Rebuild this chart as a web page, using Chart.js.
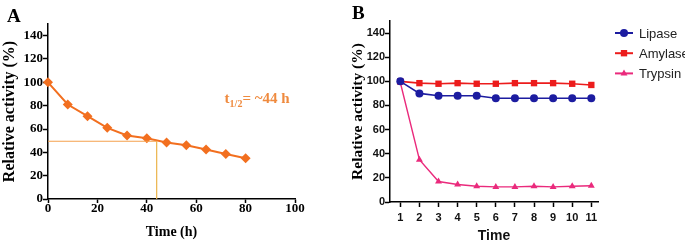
<!DOCTYPE html>
<html><head><meta charset="utf-8">
<script src="https://cdn.jsdelivr.net/npm/chart.js@4.4.0/dist/chart.umd.min.js"></script>
<style>
html,body{margin:0;padding:0;background:#fff;width:685px;height:245px;overflow:hidden;}
.wrap{position:absolute;top:0;height:245px;}
.lab{position:absolute;font:bold 19px "Liberation Serif",serif;color:#000;}
</style></head><body>
<div class="wrap" style="left:0;width:340px"><canvas id="ca" width="340" height="245"></canvas></div>
<div class="wrap" style="left:340px;width:345px"><canvas id="cb" width="345" height="245"></canvas></div>
<div class="lab" style="left:7px;top:5px">A</div>
<div class="lab" style="left:352px;top:2px">B</div>
<script>
// ---- Panel A data ----
const timeHours = [0, 8, 16, 24, 32, 40, 48, 56, 64, 72, 80];
const activityA = [100, 81, 71, 61, 54.5, 52, 48.5, 46, 42.5, 38.5, 35];
const halfLife = 44;
const halfActivity = 49.5;
const xTicksA = [0, 20, 40, 60, 80, 100];
const yTicks = [0, 20, 40, 60, 80, 100, 120, 140];

// ---- Panel B data ----
const timeB = [1, 2, 3, 4, 5, 6, 7, 8, 9, 10, 11];
const lipase = [100, 90, 88, 88, 88, 86, 86, 86, 86, 86, 86];
const amylase = [100, 98.5, 98, 98.5, 98, 98, 98.5, 98.5, 98.5, 98, 97];
const trypsin = [99, 35, 17, 14.5, 13, 12.5, 12.5, 13, 12.5, 13, 13.5];
const xTicksB = [1, 2, 3, 4, 5, 6, 7, 8, 9, 10, 11];

const serifB = '"Liberation Serif", "Times New Roman", serif';
const sans = '"Liberation Sans", Arial, sans-serif';

function setTicks(list){ return function(scale){ scale.ticks = list.map(v => ({value: v})); }; }
function axisBase(len){
  return {
    grid: {drawOnChartArea: false, tickLength: len, tickColor: '#000', tickWidth: 1.5},
    border: {color: '#000', width: 1.5},
  };
}

// ---- Chart A ----
const annotA = {
  id: 'annotA',
  afterDatasetsDraw(chart){
    const ctx = chart.ctx, xs = chart.scales.x, ys = chart.scales.y;
    let x = xs.getPixelForValue(71.5), y = ys.getPixelForValue(82);
    ctx.save();
    ctx.fillStyle = '#ef8a3e';
    ctx.textBaseline = 'alphabetic';
    ctx.font = 'bold 15px ' + serifB;
    ctx.fillText('t', x, y);
    x += ctx.measureText('t').width;
    ctx.font = 'bold 10px ' + serifB;
    ctx.fillText('1/2', x, y + 4);
    x += ctx.measureText('1/2').width;
    ctx.font = 'bold 15px ' + serifB;
    ctx.fillText('= ~44 h', x, y);
    ctx.restore();
  }
};

new Chart(document.getElementById('ca'), {
  type: 'line',
  data: {
    datasets: [
      {
        data: [{x: 0, y: halfActivity}, {x: halfLife, y: halfActivity}],
        borderColor: '#f4a04c', borderWidth: 1.2, pointRadius: 0, fill: false, clip: false
      },
      {
        data: [{x: halfLife, y: halfActivity}, {x: halfLife, y: 0}],
        borderColor: '#ebb44a', borderWidth: 1.2, pointRadius: 0, fill: false, clip: false
      },
      {
        data: timeHours.map((t, i) => ({x: t, y: activityA[i]})),
        borderColor: '#f26f1f', backgroundColor: '#f26f1f', borderWidth: 2,
        pointStyle: 'rectRot', pointRadius: 5, pointBorderWidth: 0, fill: false, clip: false
      }
    ]
  },
  options: {
    responsive: false, animation: false,
    layout: {padding: {left: 0, top: 24, right: 45, bottom: 0}},
    plugins: {legend: {display: false}, tooltip: {enabled: false}},
    scales: {
      x: Object.assign(axisBase(4), {
        type: 'linear', min: 0, max: 100,
        afterBuildTicks: setTicks(xTicksA),
        afterFit(s){ s.height = 46; },
        ticks: {font: {family: serifB, size: 13, weight: 'bold'}, color: '#000', padding: -2, maxRotation: 0},
        title: {display: true, text: 'Time (h)', font: {family: serifB, size: 14, weight: 'bold'}, color: '#000', padding: {top: 0, bottom: 4}}
      }),
      y: Object.assign(axisBase(5), {
        type: 'linear', min: 0, max: 150,
        afterBuildTicks: setTicks(yTicks),
        afterFit(s){ s.width = 48; },
        ticks: {font: {family: serifB, size: 13, weight: 'bold'}, color: '#000', padding: 0},
        title: {display: true, text: 'Relative activity (%)', font: {family: serifB, size: 16, weight: 'bold'}, color: '#000', padding: {top: 0, bottom: 0}}
      })
    }
  },
  plugins: [annotA]
});

// ---- Chart B ----
const legendB = {
  id: 'legendB',
  afterDraw(chart){
    const ctx = chart.ctx;
    chart.data.datasets.forEach((ds, i) => {
      const y = 33 + i * 20.2;
      ctx.save();
      ctx.strokeStyle = ds.borderColor; ctx.lineWidth = 2;
      ctx.beginPath(); ctx.moveTo(275, y); ctx.lineTo(293, y); ctx.stroke();
      ctx.fillStyle = ds.backgroundColor;
      Chart.helpers.drawPoint(ctx, {pointStyle: ds.pointStyle, radius: ds.pointRadius, rotation: 0, borderWidth: 0}, 284, y);
      ctx.fillStyle = '#222';
      ctx.font = '13px ' + sans;
      ctx.textBaseline = 'middle';
      ctx.fillText(ds.label, 299, y + 1);
      ctx.restore();
    });
  }
};

function ser(vals){ return timeB.map((t, i) => ({x: t, y: vals[i]})); }

new Chart(document.getElementById('cb'), {
  type: 'line',
  data: {
    datasets: [
      {label: 'Lipase', data: ser(lipase), borderColor: '#1c1ca0', backgroundColor: '#1c1ca0', borderWidth: 1.6,
       pointStyle: 'circle', pointRadius: 4, pointBorderWidth: 0, clip: false},
      {label: 'Amylase', data: ser(amylase), borderColor: '#ec1c1c', backgroundColor: '#ec1c1c', borderWidth: 1.6,
       pointStyle: 'rect', pointRadius: 4.5, pointBorderWidth: 0, clip: false},
      {label: 'Trypsin', data: ser(trypsin), borderColor: '#ea2a7c', backgroundColor: '#ea2a7c', borderWidth: 1.4,
       pointStyle: 'triangle', pointRadius: 4, pointBorderWidth: 0, clip: false}
    ]
  },
  options: {
    responsive: false, animation: false,
    layout: {padding: {left: 0, top: 21, right: 87, bottom: 0}},
    plugins: {legend: {display: false}, tooltip: {enabled: false}},
    scales: {
      x: Object.assign(axisBase(5), {
        type: 'linear', min: 0.46, max: 11.35,
        afterBuildTicks: setTicks(xTicksB),
        afterFit(s){ s.height = 43; },
        ticks: {font: {family: sans, size: 11, weight: 'bold'}, color: '#111', padding: 4, maxRotation: 0},
        title: {display: true, text: 'Time', font: {family: sans, size: 14, weight: 'bold'}, color: '#111', padding: {top: 0, bottom: 0}}
      }),
      y: Object.assign(axisBase(5), {
        type: 'linear', min: 0, max: 150,
        afterBuildTicks: setTicks(yTicks),
        afterFit(s){ s.width = 50; },
        ticks: {font: {family: sans, size: 11, weight: 'bold'}, color: '#111', padding: 0},
        title: {display: true, text: 'Relative activity (%)', font: {family: serifB, size: 15.5, weight: 'bold'}, color: '#000', padding: {top: 9, bottom: 0}}
      })
    }
  },
  plugins: [legendB]
});
</script>
</body></html>
